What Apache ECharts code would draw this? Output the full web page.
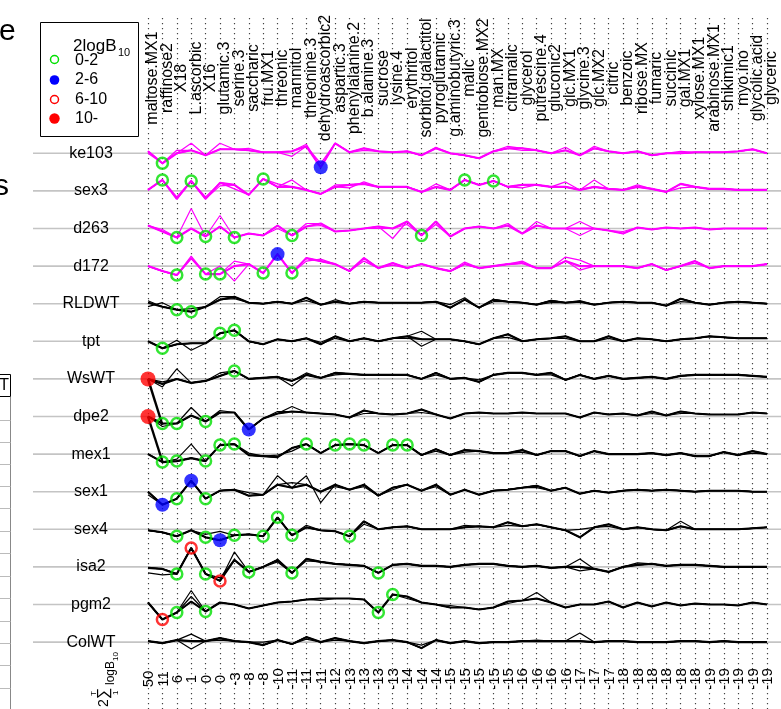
<!DOCTYPE html>
<html>
<head>
<meta charset="utf-8">
<script src="https://cdn.jsdelivr.net/npm/echarts@6/dist/echarts.min.js"></script>
<style>
html, body {margin: 0; padding: 0; background: #fff;}
#chart {width: 781px; height: 709px;}
</style>
</head>
<body>
<div id="chart"></div>
<script>
// columns (metabolites) and the summed score printed under each one
var metabolites = ['maltose.MX1', 'raffinose2', 'X18', 'L.ascorbic', 'X16', 'glutamic.3', 'serine.3', 'saccharic',
    'fru.MX1', 'threonic', 'mannitol', 'threonine.3', 'dehydroascorbic2', 'aspartic.3', 'phenylalanine.2', 'b.alanine.3',
    'sucrose', 'lysine.4', 'erythritol', 'sorbitol.galactitol', 'pyroglutamic', 'g.aminobutyric.3', 'malic',
    'gentiobiose.MX2', 'man.MX', 'citramalic', 'glycerol', 'putrescine.4', 'gluconic2', 'glc.MX1', 'glycine.3',
    'glc.MX2', 'citric', 'benzoic', 'ribose.MX', 'fumaric', 'succinic', 'gal.MX1', 'xylose.MX1', 'arabinose.MX1',
    'shikimic1', 'myo.ino', 'glycolic.acid', 'glyceric'];
var scores = [50, 11, 6, 1, 0, 0, -3, -8, -8, -10, -11, -11, -11, -12, -13, -13, -13, -13, -14, -14, -14,
    -15, -15, -15, -15, -15, -16, -16, -16, -16, -17, -17, -17, -18, -18, -18, -18, -18, -18, -19, -19, -19, -19, -19];

var rowNames = ['ke103', 'sex3', 'd263', 'd172', 'RLDWT', 'tpt', 'WsWT', 'dpe2', 'mex1', 'sex1', 'sex4', 'isa2', 'pgm2', 'ColWT'];
var magentaRows = 4;

// mean profile of each line (deviation from its row base line)
var ke103 = [2,-10,0,3,-2,4,4,3,1,1,2,7,-14,10,1,5,2,1,2,-2,5,0,-2,-5,2,5,5,3,0,3,-2,5,2,0,2,-2,0,0,1,1,1,2,4,0];
var sex3  = [1,11,-8,10,-8,8,6,-4,12,4,4,1,-3,4,6,7,4,4,4,-1,4,1,11,6,10,4,6,6,4,4,1,4,2,1,4,2,-1,7,4,2,2,1,1,1];
var d263  = [3,-3,-9,0,-8,2,-9,-5,-7,3,-7,2,5,-3,-2,0,2,0,7,-7,7,-8,0,2,0,3,-5,3,0,0,0,0,-2,-5,1,-1,1,0,1,-1,0,0,0,0];
var d172  = [0,-5,-9,8,-8,-8,0,2,-7,12,-7,8,5,2,-5,8,-2,3,-2,2,-2,-5,2,-2,0,2,3,-2,-2,5,0,0,0,0,-2,2,-4,0,5,-2,0,0,0,2];
var RLDWT = [1,-3,-6,-8,-3,4,7,1,0,2,0,6,-1,2,0,2,1,1,1,1,2,-4,4,-4,4,2,1,-1,3,1,2,-1,1,2,1,1,-2,5,1,-1,1,2,1,0];
var tpt   = [0,-7,-3,-2,-2,8,11,0,-3,2,0,3,-3,5,0,3,0,3,5,2,2,2,0,-3,3,7,0,2,3,5,0,0,5,0,3,2,0,2,3,5,4,3,3,3];
var WsWT  = [0,-5,0,-4,-2,3,8,0,1,2,-2,4,1,6,5,4,4,4,4,0,6,0,1,-3,4,6,6,4,6,-1,4,0,3,0,1,2,0,3,4,4,4,4,3,2];
var dpe2  = [0,-7,-7,1,-5,4,4,-13,-2,3,5,4,3,2,-1,6,3,2,3,7,2,-2,3,4,3,3,4,3,3,3,-1,4,2,3,1,5,1,5,3,2,2,2,4,3];
var mex1  = [0,-8,-7,-4,-7,9,10,-1,-2,-3,6,10,1,9,10,9,1,9,9,-1,5,-1,4,3,1,1,4,-1,3,3,-2,3,0,0,0,1,-1,1,-2,-2,2,-1,3,0];
var sex1  = [0,-13,-7,11,-7,1,2,-4,-3,7,4,7,0,7,2,7,-4,4,7,1,7,-3,2,-3,1,2,4,6,1,4,-2,1,-1,1,2,1,2,1,0,1,1,1,0,0];
var sex4  = [-1,-3,-7,-1,-8,-11,-6,-5,-7,12,-6,2,-1,-2,-7,8,0,2,3,0,0,0,2,3,2,7,3,5,2,-1,-8,2,5,0,2,0,-1,3,0,0,0,0,1,2];
var isa2  = [-1,-2,-7,19,-7,-14,7,-5,0,7,-6,8,5,3,2,1,-6,2,3,1,1,0,2,3,3,1,0,1,-1,0,0,-2,-5,0,2,3,1,2,2,1,0,0,0,0];
var pgm2  = [2,-15,-8,3,-7,2,0,-4,-1,2,3,5,6,6,6,5,-8,10,8,2,0,-3,-3,-5,-3,3,4,6,2,-3,0,0,3,-3,2,-2,2,-1,1,0,0,-1,2,0];
var ColWT = [1,-1,2,1,1,4,1,0,-3,2,-2,5,0,4,1,-1,1,2,0,-6,2,-1,1,-1,0,0,1,1,1,1,1,0,1,1,0,0,0,1,1,0,1,0,0,0];
var profiles = [ke103, sex3, d263, d172, RLDWT, tpt, WsWT, dpe2, mex1, sex1, sex4, isa2, pgm2, ColWT];

// replicate lines: where they leave the mean profile {column: value}
var replicates = [
    [{3: 10, 5: 10, 10: -3}, {2: 3, 12: -10, 25: 7, 29: 6, 31: 7}, {0: 0, 7: 5, 11: 9, 15: 3, 20: 6, 26: 3, 37: 2}],
    [{2: -6, 4: -6, 10: 11, 29: 9, 31: 11}, {6: 2, 9: 7, 13: 6, 20: 7, 37: 3}, {5: 5, 14: 3, 15: 9, 26: 3, 34: 6}],
    [{3: 20, 5: 13, 17: -10, 27: 7, 30: 7}, {9: 0, 12: 3, 18: 4, 20: 4, 30: -7}, {1: -1, 11: 5, 16: 0, 25: 5, 33: -3}],
    [{3: 10, 5: 0, 6: -15, 29: 9, 30: 6}, {6: 5, 15: 5, 22: 4, 30: -4}, {11: 5, 12: 7, 17: 1, 26: 5, 38: 3}],
    [{0: -3, 1: 1, 5: 7, 21: -1, 22: 6}, {0: 3, 3: -5, 11: 3, 30: 3, 37: 2}, {6: 5, 13: 4, 24: 2, 28: 1}],
    [{2: 1, 3: -9, 19: 10}, {12: -1, 19: -5, 25: 4}, {13: 3, 18: 3, 29: 3, 32: 3}],
    [{1: -8, 2: 10, 10: -7}, {1: -3, 5: 6, 23: -1}, {11: 6, 13: 4, 20: 4, 28: 4}],
    [{3: 9, 10: 10}, {1: -10, 15: 3, 19: 4}, {5: 6, 9: 5, 35: 3, 37: 3}],
    [{2: -5, 3: 10}, {9: -1, 10: 3, 22: 2}, {7: 1, 20: 3, 26: 2, 42: 1}],
    [{0: -3, 9: 16, 11: 16, 12: -11}, {7: -1, 10: 9, 17: 2}, {13: 5, 15: 5, 20: 5, 27: 4}],
    [{4: -5, 5: -2, 15: 5, 37: 8}, {25: 4, 30: 0}, {11: 4, 22: 4, 32: 3}],
    [{0: -6, 1: -8, 6: 15, 30: 8}, {5: -11, 30: -4}, {9: 5, 11: 6, 34: 4}],
    [{3: 14, 27: 12}, {3: 8, 21: -1}, {12: 4, 18: 6, 25: 1}],
    [{3: 8, 19: -3, 30: 9}, {3: -7, 8: 0, 27: 2}, {11: 3, 13: 2, 5: 2}]
];

// thick first segment that falls into the next row
var drops = {6: [0, -46], 7: [0, -45]};

// significant points: [column, class]  0: 0-2  1: 2-6  2: 6-10  3: 10-
var hits = [
    [[1, 0], [12, 1]],
    [[1, 0], [3, 0], [8, 0], [22, 0], [24, 0]],
    [[2, 0], [4, 0], [6, 0], [10, 0], [19, 0]],
    [[2, 0], [4, 0], [5, 0], [8, 0], [9, 1], [10, 0]],
    [[2, 0], [3, 0]],
    [[1, 0], [5, 0], [6, 0]],
    [[0, 3], [6, 0]],
    [[0, 3], [1, 0], [2, 0], [4, 0], [7, 1]],
    [[1, 0], [2, 0], [4, 0], [5, 0], [6, 0], [11, 0], [13, 0], [14, 0], [15, 0], [17, 0], [18, 0]],
    [[1, 1], [2, 0], [3, 1], [4, 0]],
    [[2, 0], [4, 0], [5, 1], [6, 0], [8, 0], [9, 0], [10, 0], [14, 0]],
    [[2, 0], [3, 2], [4, 0], [5, 2], [7, 0], [10, 0], [16, 0]],
    [[1, 2], [2, 0], [4, 0], [16, 0], [17, 0]],
    []
];
var legendLabels = ['0-2', '2-6', '6-10', '10-'];

var FONT = "'Liberation Sans', Arial, Helvetica, sans-serif";
var GREEN = '#00e000', BLUE = '#0000ff', RED = '#ff0000', MAGENTA = '#ff00ff';
var LEFT = 148, RIGHT = 14, ROW_TOP = 134.5, ROW_H = 37.6;

var markerStyles = [
    {symbolSize: 11, itemStyle: {color: 'rgba(0,0,0,0)', borderColor: GREEN, borderWidth: 2.5}},
    {symbolSize: 14, itemStyle: {color: BLUE}},
    {symbolSize: 11, itemStyle: {color: 'rgba(0,0,0,0)', borderColor: RED, borderWidth: 2.5}},
    {symbolSize: 15, itemStyle: {color: RED}}
];

var chart = echarts.init(document.getElementById('chart'));
var grids = [], xAxes = [], yAxes = [], series = [];

function catAxis(g, extra) {
    var ax = {gridIndex: g, type: 'category', data: metabolites, boundaryGap: false,
        axisLine: {show: false}, axisTick: {show: false}, axisLabel: {show: false}, splitLine: {show: false}};
    for (var k in extra) ax[k] = extra[k];
    return ax;
}

// 0: dotted column guides
grids.push({left: LEFT, right: RIGHT, top: 18, bottom: 0});
xAxes.push(catAxis(0, {splitLine: {show: true, interval: 0, lineStyle: {color: '#444', width: 1.2, type: [1.2, 3.8]}}}));
yAxes.push({gridIndex: 0, type: 'value', min: 0, max: 1, show: false});

// 1: metabolite names on top
grids.push({left: LEFT + 5, right: RIGHT - 5, top: 78, height: 1});
xAxes.push(catAxis(1, {position: 'top', axisLabel: {show: true, interval: 0, rotate: 90, margin: 0,
    align: 'center', verticalAlign: 'middle', fontSize: 16, color: '#000', fontFamily: FONT}}));
yAxes.push({gridIndex: 1, type: 'value', show: false});

// 2: scores at the bottom
grids.push({left: LEFT + 1, right: RIGHT - 1, top: 679, height: 1});
xAxes.push(catAxis(2, {position: 'top', axisLabel: {show: true, interval: 0, rotate: 90, margin: 0,
    align: 'center', verticalAlign: 'middle', fontSize: 15, color: '#000', fontFamily: FONT,
    formatter: function(v, i) { return String(scores[i]); }}}));
yAxes.push({gridIndex: 2, type: 'value', show: false});

rowNames.forEach(function(name, r) {
    var g = 3 + r;
    var color = r < magentaRows ? MAGENTA : '#000';
    var main = profiles[r];
    grids.push({left: LEFT, right: RIGHT, top: ROW_TOP + r * ROW_H, height: ROW_H});
    xAxes.push(catAxis(g, {}));
    yAxes.push({gridIndex: g, type: 'value', min: -18.8, max: 18.8,
        axisLine: {show: false}, axisTick: {show: false}, axisLabel: {show: false}, splitLine: {show: false},
        name: name, nameLocation: 'middle', nameRotate: 0, nameGap: 57,
        nameTextStyle: {fontSize: 16, color: '#000', fontFamily: FONT, align: 'center', verticalAlign: 'middle', padding: [3, 0, 0, 0]}});

    replicates[r].forEach(function(edit) {
        var data = main.slice();
        for (var k in edit) data[k] = edit[k];
        series.push({type: 'line', xAxisIndex: g, yAxisIndex: g, data: data, symbol: 'none', clip: false,
            silent: true, z: 2, lineStyle: {color: color, width: 1.2}});
    });
    series.push({type: 'line', xAxisIndex: g, yAxisIndex: g, data: main, symbol: 'none', clip: false,
        silent: true, z: 3, lineStyle: {color: color, width: 2.1}});
    if (drops[r]) {
        series.push({type: 'line', xAxisIndex: g, yAxisIndex: g, data: drops[r], symbol: 'none', clip: false,
            silent: true, z: 3, lineStyle: {color: '#000', width: 2.4}});
    }
    if (hits[r].length) {
        series.push({type: 'scatter', xAxisIndex: g, yAxisIndex: g, clip: false, silent: true, z: 5,
            data: hits[r].map(function(h) {
                var st = markerStyles[h[1]];
                return {value: [h[0], main[h[0]]], symbol: 'circle', symbolSize: st.symbolSize, itemStyle: st.itemStyle};
            })});
    }
});

chart.setOption({
    animation: false,
    backgroundColor: '#fff',
    grid: grids, xAxis: xAxes, yAxis: yAxes, series: series
});

// static decorations: legend box, cut-off text of the neighbouring panel, sum label
var txt = function(x, y, s, size, extra) {
    var st = {text: s, font: size + 'px ' + FONT, fill: '#000', align: 'left', verticalAlign: 'middle'};
    for (var k in extra) st[k] = extra[k];
    return {type: 'text', x: x, y: y, style: st, silent: true};
};
var graphics = [];
graphics.push(txt(-1, 32, 'e', 30));
graphics.push(txt(-6, 187, 's', 30));

// legend
graphics.push({type: 'rect', shape: {x: 40.5, y: 22.5, width: 98, height: 114}, style: {fill: '#fff', stroke: '#000', lineWidth: 1}});
graphics.push(txt(73, 46, '2logB', 17));
graphics.push(txt(118, 53, '10', 11));
var legendMarks = [
    {type: 'circle', shape: {cx: 54.5, cy: 59.5, r: 4}, style: {fill: 'none', stroke: GREEN, lineWidth: 1.5}},
    {type: 'circle', shape: {cx: 54.5, cy: 80, r: 4.8}, style: {fill: BLUE}},
    {type: 'circle', shape: {cx: 54.5, cy: 99.5, r: 4}, style: {fill: 'none', stroke: RED, lineWidth: 1.5}},
    {type: 'circle', shape: {cx: 54.5, cy: 118.5, r: 5.2}, style: {fill: RED}}
];
legendLabels.forEach(function(l, i) {
    graphics.push(legendMarks[i]);
    graphics.push(txt(75, 60.5 + i * 19.5, l, 16));
});

// cut-off table on the left edge
graphics.push({type: 'rect', shape: {x: -2, y: 374.5, width: 12.5, height: 22}, style: {fill: 'none', stroke: '#000', lineWidth: 1}});
graphics.push(txt(9, 386, 'T', 16, {align: 'right'}));
graphics.push({type: 'line', shape: {x1: 10.5, y1: 397, x2: 10.5, y2: 709}, style: {stroke: '#888', lineWidth: 1}});
[420, 442, 464, 486, 508, 531, 553, 576, 598, 621, 643, 665, 688].forEach(function(y) {
    graphics.push({type: 'line', shape: {x1: 0, y1: y + 0.5, x2: 10.5, y2: y + 0.5}, style: {stroke: '#bbb', lineWidth: 1}});
});

// rotated sum label
graphics.push({type: 'group', x: 104, y: 707, rotation: Math.PI / 2, silent: true, children: [
    txt(0, 0, '2', 14),
    txt(8, 0, '\u2211', 16),
    txt(11, -10, 'T', 8),
    txt(12, 12, '1', 8),
    txt(22, 7, 'logB', 12),
    txt(46, 12, '10', 8)
]});

// grey base line of every row
rowNames.forEach(function(name, r) {
    var y = chart.convertToPixel({yAxisIndex: 3 + r}, 0);
    graphics.push({type: 'line', z: -1, silent: true, shape: {x1: 33, y1: y, x2: 781, y2: y},
        style: {stroke: '#c4c4c4', lineWidth: 1.6}});
});

chart.setOption({graphic: graphics});
</script>
</body>
</html>
